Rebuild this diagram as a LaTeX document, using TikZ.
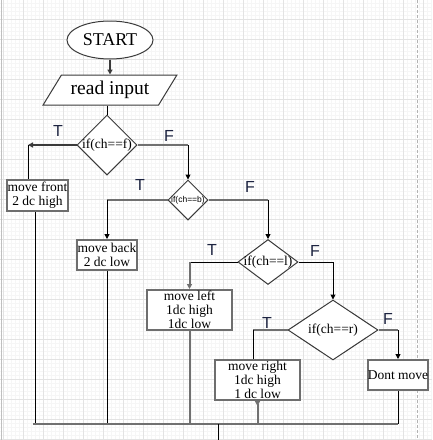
\documentclass[tikz,border=0pt]{standalone}
\usepackage{fontspec}
\setmainfont{Liberation Serif}
\newfontfamily\arialf{Liberation Sans}
\usetikzlibrary{shapes.geometric,arrows.meta}
\definecolor{boxgray}{HTML}{6E6E6E}
\definecolor{linegray}{HTML}{707070}
\definecolor{shapegray}{HTML}{3A3A3A}
\definecolor{gridmajor}{HTML}{E3E3E3}
\definecolor{gridminor}{HTML}{F6F6F6}
\definecolor{labelcol}{HTML}{1C2340}
\begin{document}
\begin{tikzpicture}[x=1pt,y=-1pt,
  thinline/.style={draw=black,line width=1pt},
  thickline/.style={draw=linegray,line width=2pt},
  arr/.style={-{Triangle[length=5pt,width=5pt]}},
  procbox/.style={rectangle,draw=boxgray,line width=2pt,fill=white,align=center,
    inner sep=0pt,font=\fontsize{13.5}{14}\selectfont},
  decision/.style={diamond,draw=shapegray,line width=1pt,fill=white,inner sep=0pt,
    font=\fontsize{13.5}{14}\selectfont},
  tflabel/.style={font=\arialf\fontsize{16}{16}\selectfont,text=labelcol,inner sep=0pt}]
\useasboundingbox (0,0) rectangle (432,440);
\fill[white] (0,0) rectangle (432,440);
% grid paper
\foreach \g in {3,7,...,431} {
  \draw[gridminor,line width=0.6pt] (\g,0) -- (\g,440);
}
\foreach \g in {3,7,...,439} {
  \draw[gridminor,line width=0.6pt] (0,\g) -- (432,\g);
}
\foreach \g in {3,23,...,423} {
  \draw[gridmajor,line width=0.8pt] (\g,0) -- (\g,440);
}
\foreach \g in {19,39,...,439} {
  \draw[gridmajor,line width=0.8pt] (0,\g) -- (432,\g);
}
\draw[gray!60,dash pattern=on 3pt off 2pt,line width=0.8pt] (417,0) -- (417,440);
\draw[gray!50,line width=1pt] (1.5,0) -- (1.5,440);

% nodes
\node[ellipse,draw=shapegray,line width=1pt,fill=white,minimum width=86,minimum height=38,inner sep=0pt,
  font=\fontsize{18}{20}\selectfont] (start) at (110,40) {START};
\node[trapezium,trapezium left angle=50,trapezium right angle=130,trapezium stretches=true,
  draw=shapegray,line width=1pt,fill=white,minimum width=134,minimum height=30,inner sep=0pt,
  font=\fontsize{19.5}{20}\selectfont] (read) at (110,90) {read input};

\node[decision,minimum width=60,minimum height=60] (d1) at (107,145) {\makebox[0pt]{if(ch==f)}};
\node[decision,minimum width=40,minimum height=40,font=\arialf\fontsize{8.5}{9}\selectfont] (d2) at (188,200) {\makebox[0pt]{if(ch==b)}};
\node[decision,minimum width=60,minimum height=45] (d3) at (268,262) {\makebox[0pt]{if(ch==l)}};
\node[decision,minimum width=90,minimum height=60] (d4) at (333,330) {\makebox[0pt]{if(ch==r)}};

\node[procbox,minimum width=61,minimum height=31] (mf) at (37.5,195.5) {move front\\2 dc high};
\node[procbox,minimum width=60,minimum height=30] (mb) at (107,255) {move back\\2 dc low};
\node[procbox,minimum width=85,minimum height=40] (ml) at (189.5,310) {move left\\1dc high\\1dc low};
\node[procbox,minimum width=85,minimum height=40] (mr) at (257.5,380) {move right\\1dc high\\1 dc low};
\node[procbox,minimum width=60,minimum height=30] (dm) at (398,375) {Dont move};

% labels
\node[tflabel] (t1) at (58,131) {T};
\node[tflabel] (f1) at (169,136) {F};
\node[tflabel] (t2) at (140,185) {T};
\node[tflabel] (f2) at (250,187) {F};
\node[tflabel] (t3) at (212,250) {T};
\node[tflabel] (f3) at (315,251) {F};
\node[tflabel] (t4) at (267,323) {T};
\node[tflabel] (f4) at (388,319) {F};

% coordinates
\coordinate (c1) at (28,145);
\coordinate (c4) at (253,330);
\coordinate (busL) at (33,424);
\coordinate (busR) at (398,424);
\coordinate (exitT) at (218,424);
\coordinate (exitB) at (218,440);

% connectors
\draw[thickline,arr,draw=shapegray] (start.south) -- (start.south |- read.north);
\draw[thinline] (d1.north |- read.south) -- (d1.north);

\draw[thickline,draw=shapegray,arr] (d1.west) -- (c1);
\draw[thinline] (c1) -- (c1 |- mf.north);
\draw[thickline] (d1.east) -- (d1.east -| d2.north);
\draw[thinline,arr] (d1.east -| d2.north) -- (d2.north);

\draw[thickline] (d2.west) -- (d2.west -| mb.north);
\draw[thinline,arr] (d2.west -| mb.north) -- (mb.north);
\draw[thickline] (d2.east) -- (d2.east -| d3.north);
\draw[thinline,arr] (d2.east -| d3.north) -- (d3.north);

\draw[thinline] (d3.west) -- (d3.west -| ml.north);
\draw[thickline,arr] (d3.west -| ml.north) -- (ml.north);
\draw[thinline] (d3.east) -- (d3.east -| d4.north);
\draw[thinline,arr] (d3.east -| d4.north) -- (d4.north);

\draw[thickline] (d4.west) -- (c4);
\draw[thinline] (c4) -- (c4 |- mr.north);
\draw[thickline] (d4.east) -- (d4.east -| dm.north);
\draw[thinline,arr] (d4.east -| dm.north) -- (dm.north);

% down to bus
\draw[thinline] (mf.south -| 35,0) -- (35,424);
\draw[thinline] (mb.south) -- (mb.south |- busL);
\draw[thickline] (ml.south) -- (ml.south |- busL);
\draw[thickline,{Triangle[length=5pt,width=5pt,reversed]}-,draw=linegray] (mr.south) -- (mr.south |- busL);
\draw[thinline] (dm.south) -- (dm.south |- busR);
\draw[thickline] (busL) -- (busR);
\draw[thinline] (exitT) -- (exitB);
\end{tikzpicture}
\end{document}
